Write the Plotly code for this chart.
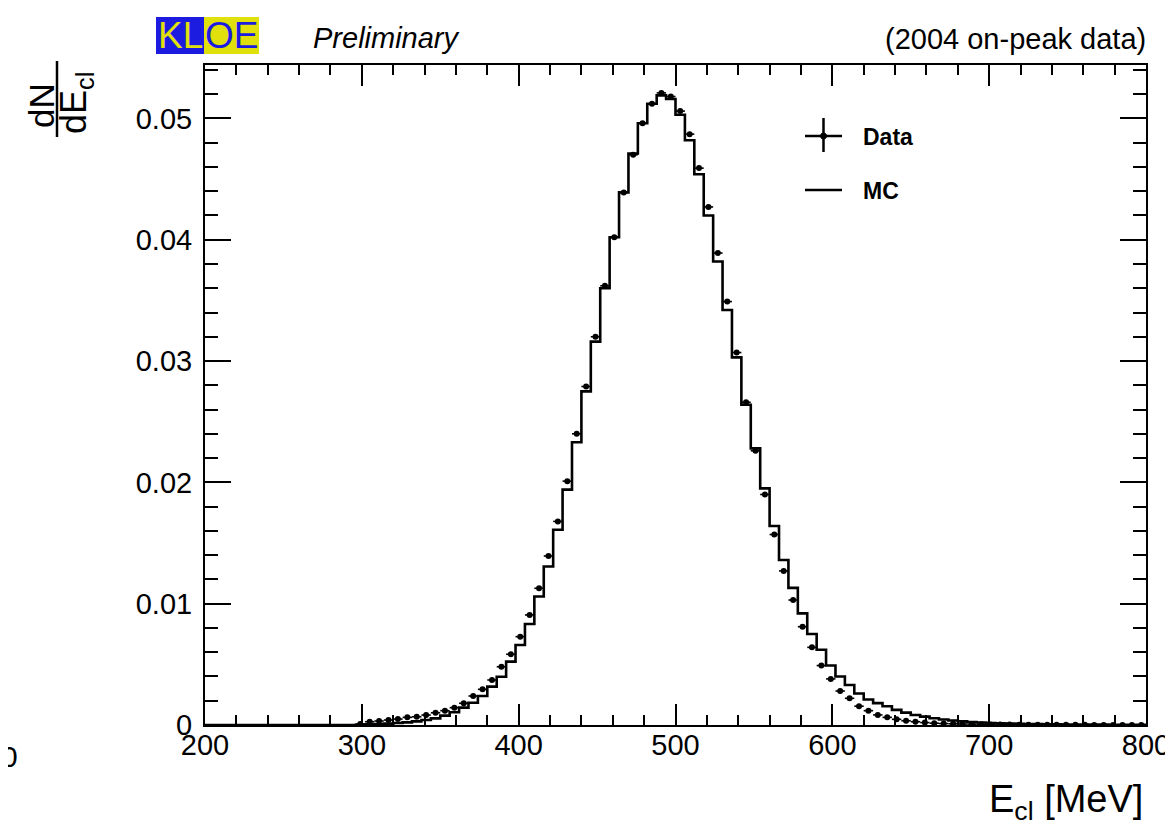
import plotly.graph_objects as go

# ---------------- data ----------------
BIN_LOW = 200.0
BIN_WIDTH = 6.0
N_BINS = 100

mc_values = [
    0, 0, 0, 0, 0, 0, 0, 0, 0, 0,
    0, 0, 0, 0, 0, 0, 0.00002, 0.00005, 0.00008, 0.00011,
    0.00016, 0.00022, 0.0003, 0.00041, 0.00055, 0.00077, 0.00105, 0.00143, 0.00184, 0.00239,
    0.00316, 0.00398, 0.00522, 0.0066, 0.00833, 0.01059, 0.01306, 0.01609, 0.0194, 0.0233,
    0.0275, 0.0316, 0.0360, 0.0402, 0.0439, 0.0471, 0.0496, 0.0512, 0.0519, 0.0516,
    0.0503, 0.0482, 0.0454, 0.0420, 0.0382, 0.0342, 0.0303, 0.0264, 0.0228, 0.0195,
    0.0164, 0.0136, 0.0113, 0.0092, 0.0075, 0.0062, 0.0049, 0.0040, 0.0033, 0.0026,
    0.0021, 0.0018, 0.00155, 0.00125, 0.00102, 0.00083, 0.00069, 0.00056, 0.00045, 0.00037,
    0.0003, 0.00025, 0.0002, 0.00017, 0.00014, 0.00012, 0.0001, 0.00008, 0.00007, 0.00006,
    0.00005, 0.00004, 0.00004, 0.00003, 0.00003, 0.00003, 0.00002, 0.00002, 0.00002, 0.00002,
]

data_values = [
    None, None, None, None, None, None, None, None, None, None,
    None, None, None, None, None, None, 0.00008, 0.00027, 0.00033, 0.00041,
    0.00049, 0.00063, 0.00068, 0.00082, 0.00101, 0.00118, 0.00143, 0.00179, 0.00239, 0.00294,
    0.00371, 0.0048, 0.00583, 0.00728, 0.00907, 0.01127, 0.01393, 0.01678, 0.0201, 0.0240,
    0.0279, 0.0320, 0.0362, 0.0402, 0.0439, 0.0470, 0.0496, 0.0512, 0.0521, 0.0518,
    0.0506, 0.0487, 0.0459, 0.0427, 0.0389, 0.0349, 0.0307, 0.0266, 0.0226, 0.0190,
    0.0157, 0.0127, 0.0103, 0.0081, 0.0064, 0.0049, 0.0038, 0.0028, 0.0022, 0.00155,
    0.00118, 0.00083, 0.00063, 0.00047, 0.00035, 0.00027, 0.0002, 0.00015, 0.00012, 0.0001,
    0.00008, 0.00007, 0.00006, 0.00005, 0.00004, 0.00004, 0.00003, 0.00003, 0.00003, 0.00002,
    0.00002, 0.00002, 0.00002, 0.00002, 0.00001, 0.00001, 0.00001, 0.00001, 0.00001, 0.00001,
]

x_tick_vals = [200, 300, 400, 500, 600, 700, 800]
x_tick_text = ["200", "300", "400", "500", "600", "700", "800"]
y_tick_vals = [0, 0.01, 0.02, 0.03, 0.04, 0.05]
y_tick_text = ["0", "0.01", "0.02", "0.03", "0.04", "0.05"]

# ---------------- derived arrays ----------------
bin_edges = [BIN_LOW + BIN_WIDTH * k for k in range(N_BINS + 1)]
bin_centers = [BIN_LOW + BIN_WIDTH * (k + 0.5) for k in range(N_BINS)]
mc_x = bin_edges
mc_y = mc_values + [mc_values[-1]]
dx = [k for k, v in enumerate(data_values) if v is not None]
data_x = [bin_centers[k] for k in dx]
data_y = [data_values[k] for k in dx]

# ---------------- layout geometry (reference-page pixels) ----------------
W, H = 1173, 839
OFF = 8  # page body margin of the html
L, R, T, B = 205, 1146, 65, 725
FONT = "Liberation Sans, Arial, Helvetica, sans-serif"


def px(x):
    return (x - L) / (R - L)


def py(y):
    return (B - y) / (B - T)


fig = go.Figure()

fig.add_trace(go.Scatter(
    x=mc_x, y=mc_y, mode="lines", line=dict(shape="hv", color="black", width=2.6),
    showlegend=False, hoverinfo="skip"))

fig.add_trace(go.Scatter(
    x=data_x, y=data_y, mode="markers",
    marker=dict(symbol="circle", size=6, color="black"),
    error_x=dict(type="constant", value=BIN_WIDTH / 2, color="black", thickness=1.6, width=0),
    showlegend=False, hoverinfo="skip"))

axis_common = dict(
    showline=True, linecolor="black", linewidth=2, mirror="allticks",
    ticks="inside", tickcolor="black", tickwidth=1.5, showgrid=False, zeroline=False,
    tickfont=dict(family=FONT, size=29, color="black"),
)

fig.update_xaxes(
    range=[200, 800], tickmode="array", tickvals=x_tick_vals, ticktext=x_tick_text,
    ticklen=21,
    minor=dict(dtick=20, tick0=200, ticklen=10, ticks="inside", tickcolor="black", tickwidth=1.5),
    ticklabelstandoff=-7,
    **axis_common)
fig.update_yaxes(
    range=[0, 0.0544], tickmode="array", tickvals=y_tick_vals, ticktext=y_tick_text,
    ticklen=26,
    minor=dict(dtick=0.002, tick0=0, ticklen=13, ticks="inside", tickcolor="black", tickwidth=1.5),
    ticklabelstandoff=5,
    **axis_common)

shapes = []
annotations = []

# KLOE logo
shapes.append(dict(type="rect", xref="paper", yref="paper", x0=px(156), x1=px(204),
                   y0=py(54), y1=py(17), fillcolor="#1c1ce0", line=dict(width=0), layer="above"))
shapes.append(dict(type="rect", xref="paper", yref="paper", x0=px(204), x1=px(259),
                   y0=py(54), y1=py(17), fillcolor="#e0e00c", line=dict(width=0), layer="above"))
annotations.append(dict(text="KL", xref="paper", yref="paper", x=px(180), y=py(36),
                        xanchor="center", yanchor="middle", showarrow=False,
                        font=dict(family=FONT, size=37, color="#e0e00c")))
annotations.append(dict(text="OE", xref="paper", yref="paper", x=px(231.5), y=py(36),
                        xanchor="center", yanchor="middle", showarrow=False,
                        font=dict(family=FONT, size=37, color="#1c1ce0")))
annotations.append(dict(text="<i>Preliminary</i>", xref="paper", yref="paper", x=px(311), y=py(38),
                        xanchor="left", yanchor="middle", showarrow=False,
                        font=dict(family=FONT, size=29, color="black")))
annotations.append(dict(text="(2004 on-peak data)", xref="paper", yref="paper", x=px(1148), y=py(39),
                        xanchor="right", yanchor="middle", showarrow=False,
                        font=dict(family=FONT, size=29, color="black")))

# axis titles
annotations.append(dict(text="E<sub>cl</sub> [MeV]", xref="paper", yref="paper", x=px(1145), y=py(802),
                        xanchor="right", yanchor="middle", showarrow=False,
                        font=dict(family=FONT, size=38, color="black")))
annotations.append(dict(text="dN", xref="paper", yref="paper", x=px(41), y=py(106),
                        xanchor="center", yanchor="middle", showarrow=False, textangle=-90,
                        font=dict(family=FONT, size=35, color="black")))
annotations.append(dict(text="dE<sub>cl</sub>", xref="paper", yref="paper", x=px(76), y=py(103),
                        xanchor="center", yanchor="middle", showarrow=False, textangle=-90,
                        font=dict(family=FONT, size=36, color="black")))
shapes.append(dict(type="line", xref="paper", yref="paper", x0=px(57), x1=px(57),
                   y0=py(61), y1=py(137), line=dict(color="black", width=2.5)))

# stray cropped label at far left
annotations.append(dict(text="0", xref="paper", yref="paper", x=px(20), y=py(756),
                        xanchor="right", yanchor="middle", showarrow=False,
                        font=dict(family=FONT, size=30, color="black")))

# legend
shapes.append(dict(type="line", xref="paper", yref="paper", x0=px(805), x1=px(842),
                   y0=py(136), y1=py(136), line=dict(color="black", width=2.5)))
shapes.append(dict(type="line", xref="paper", yref="paper", x0=px(823.5), x1=px(823.5),
                   y0=py(118), y1=py(152), line=dict(color="black", width=2.5)))
shapes.append(dict(type="circle", xref="paper", yref="paper", x0=px(820.5), x1=px(826.5),
                   y0=py(133), y1=py(139), fillcolor="black", line=dict(color="black", width=1)))
shapes.append(dict(type="line", xref="paper", yref="paper", x0=px(805), x1=px(842),
                   y0=py(190), y1=py(190), line=dict(color="black", width=2.5)))
annotations.append(dict(text="<b>Data</b>", xref="paper", yref="paper", x=px(861), y=py(137),
                        xanchor="left", yanchor="middle", showarrow=False,
                        font=dict(family=FONT, size=23, color="black")))
annotations.append(dict(text="<b>MC</b>", xref="paper", yref="paper", x=px(861), y=py(191),
                        xanchor="left", yanchor="middle", showarrow=False,
                        font=dict(family=FONT, size=23, color="black")))

fig.update_layout(
    width=W, height=H,
    margin=dict(l=L - OFF, r=W - R + OFF, t=T - OFF, b=H - B + OFF, pad=0),
    paper_bgcolor="white", plot_bgcolor="white",
    shapes=shapes, annotations=annotations, showlegend=False,
    font=dict(family=FONT, color="black"),
)

fig.write_html("out.html")
